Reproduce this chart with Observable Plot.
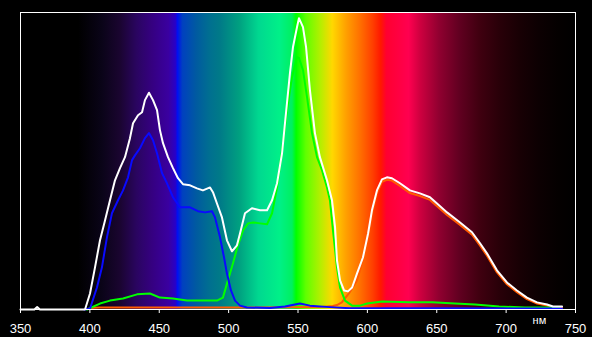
<!DOCTYPE html>
<html><head><meta charset="utf-8">
<script src="https://cdn.jsdelivr.net/npm/d3@7"></script>
<script src="https://cdn.jsdelivr.net/npm/@observablehq/plot@0.6"></script>
<style>html,body{margin:0;padding:0;background:#000;overflow:hidden}svg{display:block}</style>
</head><body><div id="chart"></div>
<script>
// wavelength ticks (nm)
const xTicks = [350, 400, 450, 500, 550, 600, 650, 700, 750];
const unitLabel = "нм";
const unitAt = 724;

// series: [wavelength nm, relative intensity]
const whiteSeries = [[350,0],[360,0],[362,0.008],[364,0],[395,0],[396.5,0],[400.1,0.054],[403.7,0.142],[407.3,0.233],[410.9,0.300],[414.5,0.368],[418.1,0.435],[421.7,0.476],[425.3,0.513],[428.9,0.577],[431.1,0.627],[434.7,0.654],[437.6,0.664],[439.7,0.705],[442.6,0.730],[445.5,0.705],[448.4,0.671],[450.5,0.604],[452.7,0.560],[456.3,0.513],[459.9,0.476],[463.5,0.442],[467.1,0.422],[472.2,0.418],[477.2,0.408],[481.5,0.401],[486.6,0.411],[488.7,0.395],[491.6,0.357],[495.2,0.310],[498.8,0.233],[502.4,0.196],[506.0,0.216],[508.2,0.256],[511.8,0.324],[516.8,0.341],[522.6,0.334],[527.7,0.334],[531.3,0.368],[534.9,0.425],[538.5,0.526],[540.6,0.627],[544.2,0.796],[546.4,0.884],[549.3,0.951],[550.7,0.981],[553.6,0.951],[555.8,0.884],[558.6,0.739],[562.2,0.594],[565.8,0.513],[570.9,0.435],[574.5,0.368],[576.7,0.277],[578.1,0.165],[580.3,0.098],[583.2,0.064],[586.0,0.061],[589.0,0.074],[592.5,0.121],[596.8,0.175],[600.5,0.256],[603.3,0.334],[606.9,0.401],[610.5,0.438],[614.1,0.445],[617.7,0.442],[623.5,0.425],[630.7,0.401],[637.9,0.391],[645.1,0.378],[650.2,0.357],[657.4,0.327],[666.8,0.293],[675.4,0.260],[681.2,0.223],[686.2,0.189],[693.4,0.132],[700.6,0.091],[707.8,0.064],[715.0,0.040],[722.3,0.024],[729.5,0.017],[733.8,0.010],[740.3,0.010]];

const blueSeries = [[396,0],[400.1,0.003],[405.1,0.074],[408.7,0.142],[412.3,0.243],[415.9,0.324],[420.3,0.368],[423.9,0.401],[427.5,0.445],[430.4,0.503],[432.5,0.519],[436.1,0.543],[439.7,0.577],[442.6,0.594],[445.5,0.570],[448.4,0.526],[452.0,0.459],[455.6,0.425],[459.9,0.378],[465.0,0.344],[472.2,0.344],[477.9,0.331],[483.0,0.327],[488.0,0.331],[490.2,0.310],[493.8,0.243],[496.7,0.175],[498.8,0.121],[501.7,0.064],[504.6,0.030],[508.2,0.013],[513.2,0.007],[529.8,0.005],[540.6,0.010],[551.4,0.020],[558.6,0.013],[573.0,0.008],[587.5,0.004],[660,0.004],[740.3,0.003]];

const greenSeries = [[397.9,0],[407.3,0.020],[414.5,0.030],[423.9,0.037],[434.0,0.051],[443.3,0.054],[450.5,0.040],[459.9,0.037],[470.0,0.030],[481.5,0.030],[491.6,0.030],[495.9,0.040],[499.5,0.098],[503.1,0.155],[506.7,0.216],[510.4,0.266],[514.0,0.290],[517.6,0.293],[522.6,0.290],[527.7,0.287],[531.3,0.324],[534.9,0.411],[538.5,0.536],[542.1,0.671],[545.7,0.782],[549.3,0.850],[550.7,0.847],[553.6,0.806],[556.5,0.715],[560.1,0.594],[563.7,0.513],[567.3,0.469],[570.9,0.411],[573.0,0.368],[575.2,0.266],[578.1,0.142],[580.3,0.074],[583.9,0.030],[589.0,0.013],[594.7,0.013],[599.8,0.020],[610.5,0.027],[630.0,0.024],[646.6,0.024],[663.1,0.020],[677.6,0.017],[694.9,0.010],[713.6,0.007],[738.1,0.007]];

const redSeries = [[400,0.005],[407,0.007],[520,0.007],[565,0.008],[575,0.012],[578.1,0.015],[581.6,0.024],[586.7,0.054],[592.5,0.098],[596.8,0.165],[600.5,0.246],[603.3,0.325],[606.9,0.392],[610.5,0.430],[614.1,0.437],[617.7,0.434],[623.5,0.416],[630.7,0.392],[637.9,0.382],[645.1,0.369],[650.2,0.348],[657.4,0.318],[666.8,0.285],[675.4,0.252],[681.2,0.215],[686.2,0.181],[693.4,0.125],[700.6,0.085],[707.8,0.058],[715.0,0.035],[722.3,0.020],[729.5,0.013],[733.8,0.007],[740.3,0.006]];

// background spectrum colour stops (style)
const SPECTRUM = [[350,"#000000"],[392,"#000000"],[409,"#0a0418"],[422,"#1a0530"],[434,"#2a0560"],[445,"#350080"],[457,"#3a00a0"],[462,"#2800c8"],[463.5,"#0010f0"],[467,"#0040c0"],[477,"#005aa0"],[487,"#007090"],[494,"#007a88"],[508,"#00a080"],[522,"#00d890"],[537,"#00f088"],[546,"#00f060"],[549,"#00ff00"],[556,"#60ff00"],[566,"#b0f000"],[575,"#ffd800"],[585,"#ffa000"],[595,"#ff7000"],[604,"#ff4000"],[610,"#ff1800"],[614,"#ff0030"],[630,"#ff0050"],[638,"#d00040"],[652,"#900030"],[667,"#600020"],[681,"#400010"],[696,"#280008"],[710,"#180004"],[724,"#0c0002"],[738,"#040000"],[750,"#000000"]];

const toRows = (arr) => arr.map(([nm, v]) => ({nm, v}));

const spectrumMark = (index, scales, values, dims) => {
  const x = scales.x;
  const x0 = x(350), x1 = x(750);
  const g = d3.create("svg:g");
  const grad = g.append("defs").append("linearGradient")
    .attr("id", "spec-grad").attr("gradientUnits", "userSpaceOnUse")
    .attr("x1", x0).attr("x2", x1).attr("y1", 0).attr("y2", 0);
  for (const [nm, c] of SPECTRUM) {
    grad.append("stop").attr("offset", (x(nm) - x0) / (x1 - x0)).attr("stop-color", c);
  }
  g.append("rect")
    .attr("x", dims.marginLeft).attr("y", dims.marginTop)
    .attr("width", dims.width - dims.marginLeft - dims.marginRight)
    .attr("height", dims.height - dims.marginTop - dims.marginBottom)
    .attr("fill", "url(#spec-grad)");
  return g.node();
};

const chart = Plot.plot({
  width: 592,
  height: 337,
  marginLeft: 20,
  marginRight: 17,
  marginTop: 12,
  marginBottom: 28,
  style: {background: "#000", color: "#fff", fontFamily: "'Liberation Sans', Arial, sans-serif", fontSize: "13px"},
  x: {domain: [350, 750]},
  y: {domain: [0, 1], axis: null},
  marks: [
    spectrumMark,
    Plot.line(toRows(redSeries), {x: "nm", y: "v", stroke: "#ff5a00", strokeWidth: 2}),
    Plot.line(toRows(greenSeries), {x: "nm", y: "v", stroke: "#00ff00", strokeWidth: 2}),
    Plot.line(toRows(blueSeries), {x: "nm", y: "v", stroke: "#0a0aff", strokeWidth: 2}),
    Plot.line(toRows(whiteSeries), {x: "nm", y: "v", stroke: "#ffffff", strokeWidth: 2}),
    Plot.axisX({ticks: xTicks, tickSize: 4, tickPadding: 10, stroke: "#fff", fill: "#fff", fontSize: 13, label: null}),
    Plot.frame({stroke: "#fff"}),
    Plot.text([unitLabel], {x: () => unitAt, frameAnchor: "bottom", text: d => d, fill: "#fff", fontSize: 11, lineAnchor: "middle", dy: 10.5})
  ]
});
document.getElementById("chart").append(chart);
</script></body></html>
